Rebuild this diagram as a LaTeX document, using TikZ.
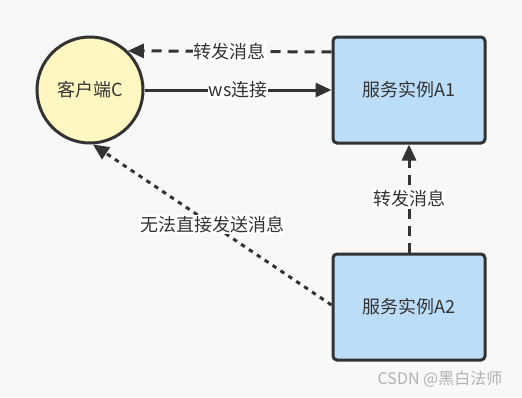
\documentclass[tikz,border=0pt]{standalone}
\usepackage{fontspec}
\setmainfont{Noto Sans CJK SC}
\usetikzlibrary{arrows.meta, positioning}
\definecolor{bgcol}{HTML}{F8F8F8}
\definecolor{inkcol}{HTML}{333333}
\definecolor{clientfill}{HTML}{FFF7C2}
\definecolor{serverfill}{HTML}{BCDDF8}

\tikzset{
  client/.style={circle, draw=inkcol, fill=clientfill, line width=3pt,
    minimum size=106pt, inner sep=0pt, text=inkcol, font=\fontsize{18}{20}\selectfont},
  server/.style={rectangle, rounded corners=4pt, draw=inkcol, fill=serverfill,
    line width=3pt, minimum width=152pt, minimum height=106pt, text=inkcol,
    font=\fontsize{18}{20}\selectfont},
  conn/.style={draw=inkcol, line width=3pt, -{Triangle[length=16pt,width=14pt]}},
  dashconn/.style={conn, dash pattern=on 10pt off 7pt},
  dotconn/.style={conn, dash pattern=on 4.5pt off 5pt},
  lbl/.style={fill=white, inner sep=1pt, text=inkcol, font=\fontsize{18}{20}\selectfont}
}

\begin{document}
\begin{tikzpicture}[x=1pt, y=-1pt]
  \fill[bgcol] (0,0) rectangle (522,397);
  % nodes
  \node[client] (c) at (90,90) {客户端C};
  \node[server] (a1) at (409,90) {服务实例A1};
  \node[server] (a2) at (409,307) {服务实例A2};
  % connectors
  \draw[dashconn] ([yshift=38pt]a1.west) -- (c.46) node[midway, lbl] {转发消息};
  \draw[conn] (c) -- (a1) node[midway, lbl] {ws连接};
  \draw[dashconn] (a2) -- (a1) node[midway, lbl] {转发消息};
  \draw[dotconn] ([yshift=2pt]a2.west) -- (c.-87) node[midway, lbl] {无法直接发送消息};
  % watermark
  \node[text=gray!60, font=\fontsize{16}{18}\selectfont] (wm) at (440,379) {CSDN @黑白法师};
\end{tikzpicture}
\end{document}
